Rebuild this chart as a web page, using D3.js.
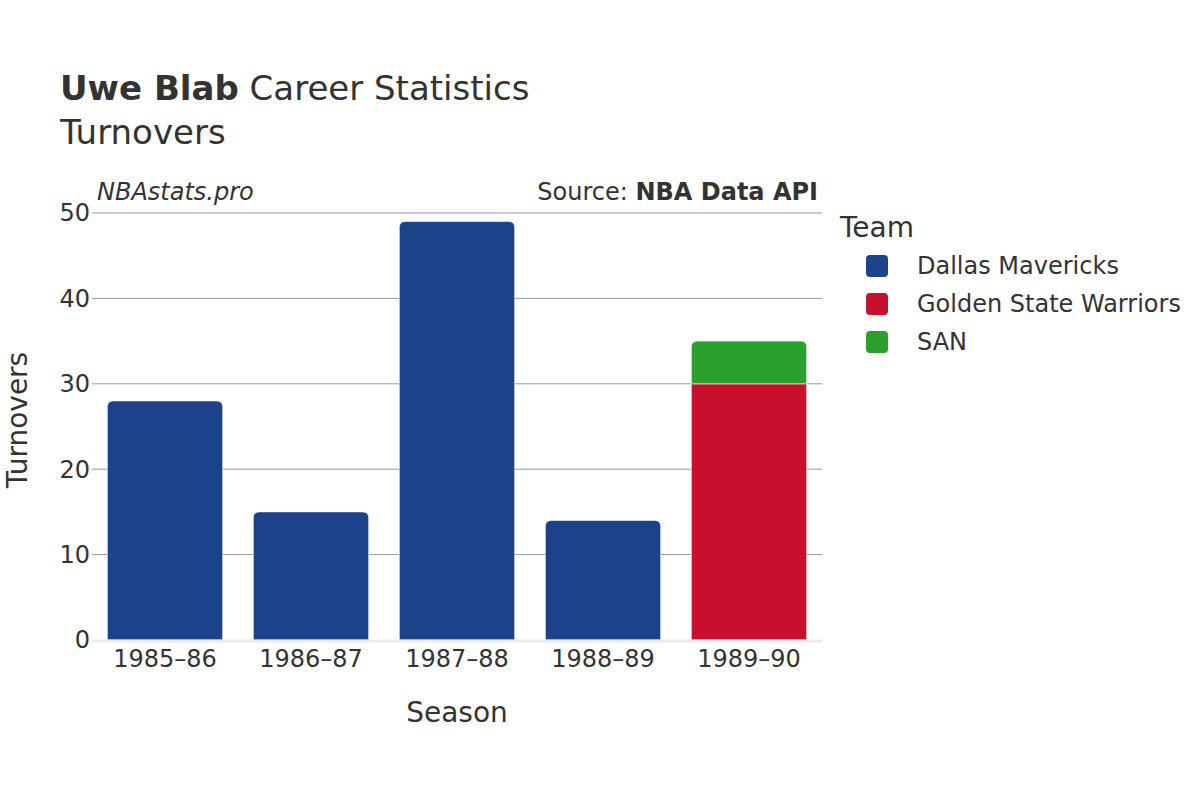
<!DOCTYPE html>
<html><head><meta charset="utf-8">
<script src="https://cdn.jsdelivr.net/npm/d3@7"></script>
<style>body{margin:0;background:#fff}text{font-family:"DejaVu Sans",sans-serif;fill:#333}</style>
</head><body>
<svg id="c" width="1200" height="800"></svg>
<script>
const seasons = ["1985–86","1986–87","1987–88","1988–89","1989–90"];
const teams = ["Dallas Mavericks","Golden State Warriors","SAN"];
const colors = ["#1c4389","#c8102e","#2ca02c"];
const dal = [28,15,49,14,0];
const gsw = [0,0,0,0,30];
const san = [0,0,0,0,5];
const yTicks = [0,10,20,30,40,50];

const svg = d3.select("#c");
const L=92,R=822,T=213,B=640;
const x = d3.scaleBand().domain(seasons).range([L,R]).paddingInner(0.21).paddingOuter(0.105);
const y = d3.scaleLinear().domain([0,50]).range([B,T]);

// grid
svg.append("g").selectAll("line").data(yTicks.filter(d=>d>0)).join("line")
 .attr("x1",L).attr("x2",R).attr("y1",d=>y(d)).attr("y2",d=>y(d))
 .attr("stroke","#999").attr("stroke-width",1);

const series=[dal,gsw,san];
const stacked = seasons.map((s,i)=>{
  let base=0; const segs=[];
  series.forEach((arr,k)=>{ if(arr[i]>0){segs.push({s,k,y0:base,y1:base+arr[i]}); base+=arr[i];}});
  if(segs.length) segs[segs.length-1].top=true;
  return segs;
}).flat();

function path(d){
  const x0=x(d.s), w=x.bandwidth(), yt=y(d.y1), yb=y(d.y0), r=d.top?6:0;
  return `M${x0},${yb}V${yt+r}Q${x0},${yt} ${x0+r},${yt}H${x0+w-r}Q${x0+w},${yt} ${x0+w},${yt+r}V${yb}Z`;
}
svg.append("g").selectAll("path").data(stacked).join("path")
 .attr("d",path).attr("fill",d=>colors[d.k]).attr("stroke","#fff").attr("stroke-width",0.6);

// zero line
svg.append("line").attr("x1",L).attr("x2",R).attr("y1",B+1).attr("y2",B+1).attr("stroke","#ebebeb").attr("stroke-width",3);

// y ticks
svg.append("g").selectAll("text").data(yTicks).join("text")
 .attr("x",L-2).attr("y",d=>y(d)).attr("dy","0.35em").attr("text-anchor","end")
 .attr("font-size",24).text(d=>d);
// x ticks
svg.append("g").selectAll("text").data(seasons).join("text")
 .attr("x",d=>x(d)+x.bandwidth()/2).attr("y",667).attr("text-anchor","middle")
 .attr("font-size",24).text(d=>d);

svg.append("text").attr("x",457).attr("y",722).attr("text-anchor","middle").attr("font-size",28).text("Season");
svg.append("text").attr("transform","translate(27,420) rotate(-90)").attr("text-anchor","middle").attr("font-size",28).text("Turnovers");

// titles
const t=svg.append("text").attr("x",60).attr("y",100).attr("font-size",34);
t.append("tspan").attr("font-weight","bold").text("Uwe Blab");
t.append("tspan").text(" Career Statistics");
svg.append("text").attr("x",60).attr("y",144).attr("font-size",34).text("Turnovers");

svg.append("text").attr("x",97).attr("y",200).attr("font-size",24).attr("font-style","italic").text("NBAstats.pro");
const s=svg.append("text").attr("x",818).attr("y",200).attr("font-size",24).attr("text-anchor","end");
s.append("tspan").text("Source: ");
s.append("tspan").attr("font-weight","bold").text("NBA Data API");

// legend
svg.append("text").attr("x",840).attr("y",237).attr("font-size",28).text("Team");
const lg=svg.append("g").selectAll("g").data(teams).join("g")
 .attr("transform",(d,i)=>`translate(866,${255+i*38})`);
lg.append("rect").attr("width",22).attr("height",22).attr("rx",4).attr("fill",(d,i)=>colors[i]);
lg.append("text").attr("x",51).attr("y",11).attr("dy","0.35em").attr("font-size",24).text(d=>d);
</script>
</body></html>
